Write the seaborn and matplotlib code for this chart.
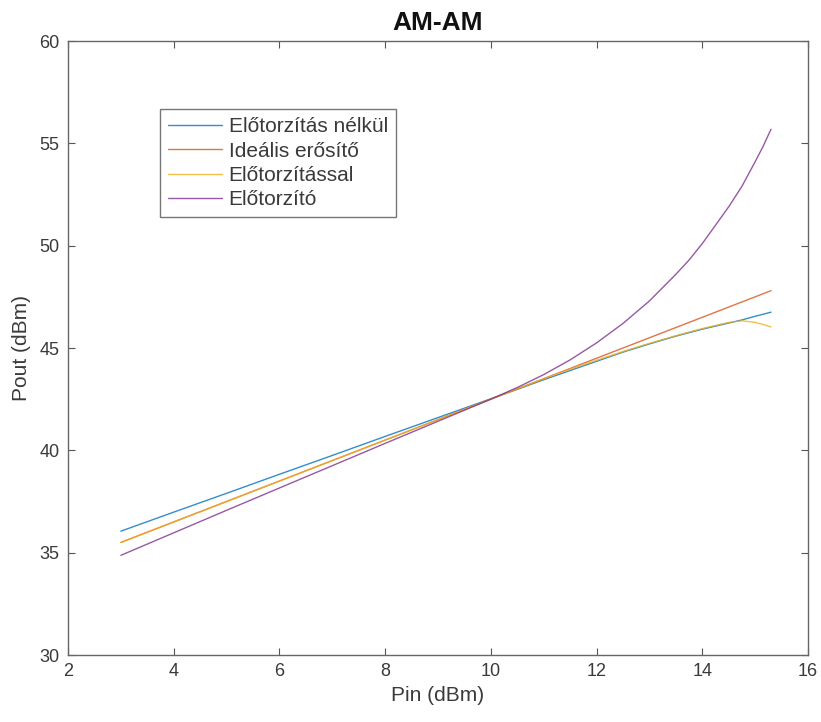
import numpy as np
import pandas as pd
import matplotlib
matplotlib.use("Agg")
import matplotlib.pyplot as plt
import seaborn as sns

# Input power grid (dBm)
pin = [3, 4, 5, 6, 7, 8, 9, 10, 10.5, 11, 11.5, 12, 12.5, 13, 13.5, 13.75, 14, 14.25,
       14.5, 14.75, 15, 15.15, 15.3]

# Output power (dBm) for each curve
pout_no_predist = [36.05, 36.98, 37.9, 38.83, 39.75, 40.68, 41.6, 42.52, 42.98, 43.45, 43.9,
                   44.35, 44.8, 45.2, 45.58, 45.75, 45.92, 46.07, 46.22, 46.37, 46.55, 46.65, 46.75]
pout_ideal = [35.5, 36.5, 37.5, 38.5, 39.5, 40.5, 41.5, 42.5, 43.0, 43.5, 44.0,
              44.5, 45.0, 45.5, 46.0, 46.25, 46.5, 46.75, 47.0, 47.25, 47.5, 47.65, 47.8]
pout_with_predist = [35.5, 36.5, 37.5, 38.5, 39.5, 40.5, 41.5, 42.5, 43.0, 43.5, 43.97,
                     44.4, 44.83, 45.23, 45.6, 45.78, 45.95, 46.1, 46.25, 46.33, 46.25, 46.15, 46.03]
pout_predistorter = [34.87, 35.97, 37.07, 38.16, 39.25, 40.34, 41.42, 42.5, 43.07, 43.7, 44.42,
                     45.25, 46.2, 47.3, 48.6, 49.3, 50.1, 51.0, 51.9, 52.9, 54.1, 54.85, 55.69]

series_names = ["Előtorzítás nélkül", "Ideális erősítő", "Előtorzítással", "Előtorzító"]
series_values = [pout_no_predist, pout_ideal, pout_with_predist, pout_predistorter]
colors = ["#0072BD", "#D95319", "#EDB120", "#7E2F8E"]

df = pd.concat(
    [pd.DataFrame({"Pin": pin, "Pout": vals, "curve": name})
     for name, vals in zip(series_names, series_values)],
    ignore_index=True,
)

sns.set_style("white")
plt.rcParams["font.family"] = ["Liberation Sans", "DejaVu Sans"]

fig = plt.figure(figsize=(8.21, 7.22), dpi=100)
ax = fig.add_axes([68 / 821, 1 - 655 / 722, 740 / 821, 614 / 722])

sns.lineplot(data=df, x="Pin", y="Pout", hue="curve", hue_order=series_names,
             palette=dict(zip(series_names, colors)), linewidth=1.0, alpha=0.8,
             sort=False, ax=ax)

ax.set_xlim(2, 16)
ax.set_ylim(30, 60)
ax.set_xticks(np.arange(2, 17, 2))
ax.set_yticks(np.arange(30, 61, 5))

text_color = "#3a3a3a"
ax.tick_params(direction="in", length=5, width=0.8, colors="#555555",
               labelcolor=text_color, labelsize=13, top=True, right=True,
               bottom=True, left=True, pad=6)
for sp in ax.spines.values():
    sp.set_color("#666666")
    sp.set_linewidth(1.0)

ax.set_xlabel("Pin (dBm)", fontsize=15, color=text_color, labelpad=4)
ax.set_ylabel("Pout (dBm)", fontsize=15, color=text_color, labelpad=6)
ax.set_title("AM-AM", fontsize=19, fontweight="bold", color="#111111", pad=8)

leg = ax.legend(loc="upper left", bbox_to_anchor=(0.124, 0.889), borderaxespad=0,
                fontsize=15, frameon=True, fancybox=False, handlelength=2.6,
                handletextpad=0.3, labelspacing=0.25, borderpad=0.4, title=None)
leg.get_frame().set_edgecolor("#555555")
leg.get_frame().set_linewidth(1.0)
for t in leg.get_texts():
    t.set_color(text_color)

fig.savefig("out.png", dpi=100)
